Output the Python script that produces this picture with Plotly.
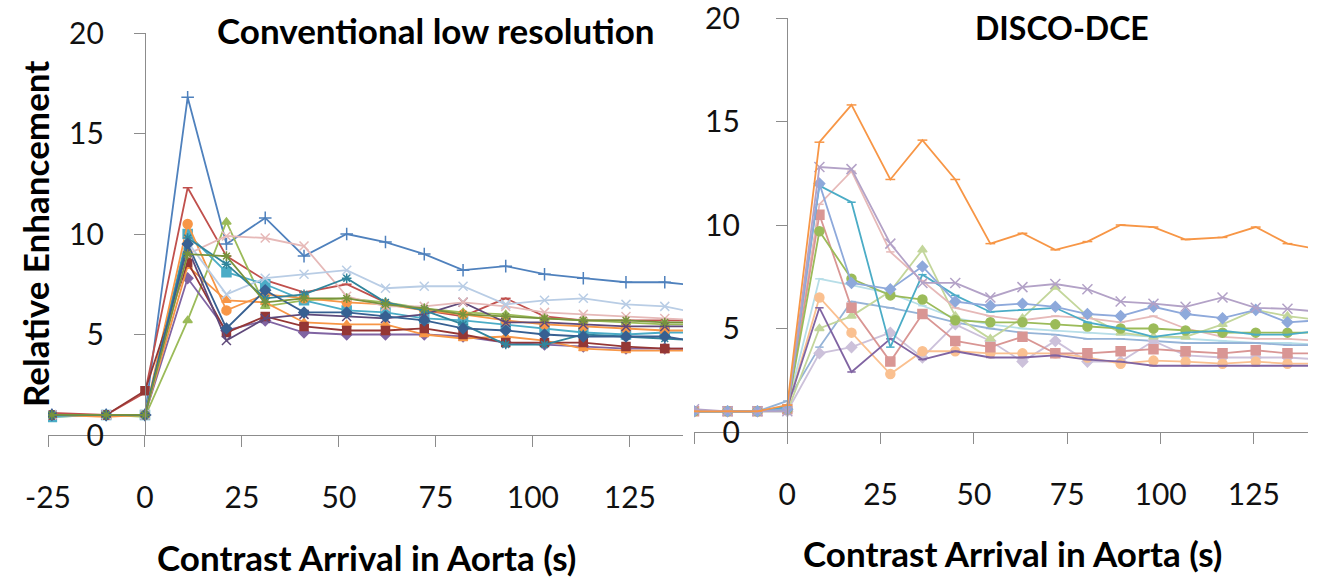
import plotly.graph_objects as go

W, H = 1319, 580

# ---------------- data ----------------
left_title = "Conventional low resolution"
right_title = "DISCO-DCE"
x_title = "Contrast Arrival in Aorta (s)"
y_title = "Relative Enhancement"

x_tick_vals = [-25, 0, 25, 50, 75, 100, 125]
x_tick_text_left = ["-25", "0", "25", "50", "75", "100", "125"]
x_tick_text_right = ["", "0", "25", "50", "75", "100", "125"]
y_tick_vals = [0, 5, 10, 15, 20]

t_left = [-24, -10, 0, 11, 21, 31, 41, 52, 62, 72, 82, 93, 103, 113, 124, 134, 144]
left_blue = [1.0, 1.0, 1.0, 16.8, 9.5, 10.8, 8.9, 10.0, 9.6, 9.0, 8.2, 8.4, 8.0, 7.8, 7.6, 7.6, 7.4]
left_red = [1.1, 1.0, 2.1, 12.3, 8.9, 7.7, 7.1, 7.5, 6.6, 6.2, 5.9, 6.8, 5.9, 5.7, 5.7, 5.7, 5.7]
left_green = [0.9, 1.0, 0.9, 5.7, 10.6, 6.4, 6.7, 6.8, 6.6, 6.3, 6.1, 6.0, 5.8, 5.7, 5.6, 5.5, 5.5]
left_purple = [1.0, 1.0, 1.0, 7.8, 5.2, 5.7, 5.1, 5.0, 5.0, 5.0, 4.9, 4.6, 4.5, 4.4, 4.3, 4.3, 4.3]
left_aqua = [0.9, 1.0, 1.0, 10.0, 8.1, 7.5, 6.7, 6.2, 6.1, 5.8, 5.7, 5.5, 5.3, 5.1, 5.0, 5.1, 5.1]
left_orange_c = [1.0, 1.0, 1.0, 10.5, 6.2, 7.0, 6.8, 6.6, 6.5, 6.2, 6.0, 5.7, 5.5, 5.4, 5.3, 5.2, 5.2]
left_orange_t = [1.0, 0.9, 1.0, 8.4, 6.7, 6.6, 5.6, 5.5, 5.5, 5.0, 4.8, 4.9, 4.7, 4.3, 4.2, 4.2, 4.2]
left_darkred = [1.0, 1.0, 2.2, 8.6, 5.1, 5.9, 5.4, 5.2, 5.2, 5.3, 5.0, 4.6, 4.6, 4.6, 4.4, 4.3, 4.3]
left_darkpurple = [1.0, 1.0, 1.0, 9.3, 4.7, 5.8, 6.0, 5.9, 5.8, 6.0, 6.6, 5.6, 5.6, 5.5, 5.4, 5.4, 5.4]
left_pink = [1.0, 1.0, 1.0, 9.0, 9.9, 9.8, 9.4, 6.9, 6.4, 6.4, 6.6, 6.4, 6.1, 6.0, 5.9, 5.8, 5.7]
left_lightblue = [1.0, 1.0, 1.0, 9.6, 7.0, 7.8, 8.0, 8.2, 7.3, 7.4, 7.4, 6.5, 6.7, 6.8, 6.5, 6.4, 6.0]
left_teal = [1.0, 1.0, 1.0, 9.8, 8.5, 6.8, 7.0, 7.8, 6.6, 6.2, 5.5, 4.5, 4.5, 5.0, 4.9, 4.8, 4.7]
left_darkblue = [1.0, 1.0, 1.0, 9.5, 5.3, 7.2, 6.1, 6.1, 5.9, 5.7, 5.3, 5.2, 5.0, 4.9, 4.9, 4.9, 4.6]
left_olive = [1.0, 1.0, 1.0, 9.0, 8.9, 6.6, 6.8, 6.8, 6.5, 6.3, 6.0, 5.9, 5.8, 5.7, 5.7, 5.6, 5.6]

t_right = [-25, -16, -8, 0, 8.6, 17.2, 27.6, 36.2, 45, 54.4, 63, 71.8, 80.4, 89.3, 98.1, 106.7, 116.6, 125.5, 134, 143]
right_orange = [1.0, 1.0, 1.0, 1.3, 14.0, 15.8, 12.2, 14.1, 12.2, 9.1, 9.6, 8.8, 9.2, 10.0, 9.9, 9.3, 9.4, 9.9, 9.1, 8.8]
right_lavender = [1.1, 1.0, 1.0, 1.0, 12.8, 12.7, 9.1, 7.2, 7.2, 6.5, 7.0, 7.15, 6.9, 6.3, 6.2, 6.05, 6.5, 6.0, 5.95, 5.8]
right_bluediamond = [1.0, 1.0, 1.0, 1.1, 12.0, 7.2, 6.9, 8.0, 6.3, 6.1, 6.2, 6.05, 5.7, 5.6, 6.05, 5.7, 5.5, 5.9, 5.3, 5.4]
right_teal = [1.0, 1.0, 1.0, 1.2, 11.9, 11.1, 4.1, 7.6, 6.6, 5.8, 5.9, 6.0, 5.3, 5.0, 4.6, 4.8, 4.9, 4.7, 4.7, 4.9]
right_green = [1.0, 1.0, 1.0, 1.1, 9.7, 7.4, 6.6, 6.4, 5.4, 5.3, 5.3, 5.2, 5.1, 5.0, 5.0, 4.9, 4.8, 4.8, 4.8, 4.8]
right_rose = [1.0, 1.0, 1.0, 1.1, 10.5, 6.0, 3.4, 5.7, 4.4, 4.1, 4.6, 3.8, 3.8, 3.9, 4.0, 3.9, 3.8, 3.95, 3.8, 3.8]
right_peach = [1.0, 1.0, 1.0, 1.1, 6.5, 4.8, 2.8, 3.9, 3.9, 3.8, 3.8, 3.8, 3.6, 3.3, 3.45, 3.4, 3.3, 3.4, 3.3, 3.3]
right_darkpurple = [1.0, 1.0, 1.0, 1.2, 6.0, 2.9, 4.5, 3.5, 3.9, 3.6, 3.6, 3.7, 3.5, 3.4, 3.2, 3.2, 3.2, 3.2, 3.2, 3.2]
right_lilac = [1.0, 1.0, 1.0, 1.0, 3.8, 4.1, 4.8, 3.6, 5.2, 4.4, 3.4, 4.4, 3.4, 3.4, 4.4, 3.7, 3.6, 3.6, 3.6, 3.5]
right_lightblue = [1.0, 1.0, 1.0, 1.5, 4.1, 6.3, 6.0, 5.7, 5.3, 5.0, 4.8, 4.7, 4.5, 4.5, 4.4, 4.3, 4.3, 4.3, 4.2, 4.2]
right_pink = [1.0, 1.0, 1.0, 1.1, 11.0, 12.6, 8.7, 7.3, 6.0, 5.6, 5.4, 5.6, 5.5, 5.3, 5.6, 5.0, 4.6, 4.5, 4.5, 4.4]
right_lightgreen = [1.0, 1.0, 1.0, 1.0, 5.0, 5.6, 6.8, 8.8, 5.6, 4.5, 5.5, 7.0, 5.6, 4.8, 4.6, 4.6, 5.2, 5.9, 5.6, 5.4]
right_lightaqua = [1.0, 1.0, 1.0, 1.2, 7.4, 7.1, 6.7, 6.1, 5.5, 5.2, 5.0, 4.9, 4.8, 4.7, 4.6, 4.5, 4.4, 4.3, 4.3, 4.2]

# ---------------- styles ----------------
left_series = [
    (left_blue, "#4F81BD", "cross-thin-open", 9),
    (left_red, "#C0504D", "line-ew-open", 7),
    (left_green, "#9BBB59", "triangle-up", 8),
    (left_purple, "#8064A2", "diamond", 8),
    (left_aqua, "#4BACC6", "square", 9),
    (left_orange_c, "#F79646", "circle", 9),
    (left_orange_t, "#F79646", "triangle-up", 8),
    (left_darkred, "#953735", "square", 8),
    (left_darkpurple, "#5F497A", "x-thin-open", 9),
    (left_pink, "#E6B9B8", "x-thin-open", 9),
    (left_lightblue, "#B9CDE5", "x-thin-open", 9),
    (left_teal, "#31859C", "asterisk-open", 8),
    (left_darkblue, "#376092", "diamond", 8),
    (left_olive, "#77933C", "asterisk-open", 8),
]
right_series = [
    (right_lightaqua, "#B7DEE8", "line-ew-open", 6),
    (right_lightblue, "#95B3D7", "line-ew-open", 6),
    (right_lilac, "#CCC1DA", "diamond", 8),
    (right_lightgreen, "#C3D69B", "triangle-up", 8),
    (right_pink, "#E6B9B8", "line-ew-open", 6),
    (right_peach, "#FAC090", "circle", 9),
    (right_rose, "#D99694", "square", 9),
    (right_darkpurple, "#8064A2", "line-ew-open", 6),
    (right_green, "#9BBB59", "circle", 9),
    (right_teal, "#4BACC6", "line-ew-open", 6),
    (right_bluediamond, "#8EA9DB", "diamond", 8),
    (right_lavender, "#B3A2C7", "x-thin-open", 10),
    (right_orange, "#F79646", "line-ew-open", 7),
]

fig = go.Figure()
for vals, col, sym, sz in left_series:
    fig.add_trace(go.Scatter(x=t_left, y=vals, mode="lines+markers", xaxis="x", yaxis="y",
                             line=dict(color=col, width=1.8),
                             marker=dict(symbol=sym, size=sz, color=col, line=dict(color=col, width=1.5)),
                             showlegend=False))
for vals, col, sym, sz in right_series:
    fig.add_trace(go.Scatter(x=t_right, y=vals, mode="lines+markers", xaxis="x2", yaxis="y2",
                             line=dict(color=col, width=1.8),
                             marker=dict(symbol=sym, size=sz, color=col, line=dict(color=col, width=1.5)),
                             showlegend=False))

FONT = "Lato"
AX = "#8C8C8C"
tickfont = dict(family=FONT, size=30, color="#111111")

def px_x(p):
    return p / W

def px_y(p):
    return 1 - p / H

common_x = dict(showgrid=False, zeroline=False, showline=True, linecolor=AX, linewidth=1.3,
                ticks="outside", ticklen=11, tickcolor=AX, tickwidth=1.3, automargin=False,
                ticklabeloverflow="allow",
                tickfont=tickfont, ticklabelstandoff=25, tickvals=x_tick_vals)
common_y = dict(showgrid=False, zeroline=False, showline=True, linecolor=AX, linewidth=1.3,
                ticks="outside", ticklen=11, tickcolor=AX, tickwidth=1.3, automargin=False,
                ticklabeloverflow="allow",
                tickfont=tickfont, tickvals=y_tick_vals, range=[0, 20])

fig.update_layout(
    width=W, height=H,
    margin=dict(l=0, r=0, t=0, b=0, autoexpand=False),
    paper_bgcolor="white", plot_bgcolor="white",
    xaxis=dict(common_x, domain=[px_x(48), px_x(683)], range=[-25, 138.7],
               ticktext=x_tick_text_left, anchor="y"),
    yaxis=dict(common_y, domain=[px_y(435), px_y(33)], anchor="free", position=px_x(145),
               ticklabelstandoff=24),
    xaxis2=dict(common_x, domain=[px_x(694), px_x(1308)], range=[-25, 139.5],
                ticktext=x_tick_text_right, anchor="y2"),
    yaxis2=dict(common_y, domain=[px_y(432), px_y(18)], anchor="free", position=px_x(787),
                ticklabelstandoff=30),
)

bold = dict(family=FONT, size=35, color="#000000", weight="bold")
bold_small = dict(bold, size=32)
ann = [
    dict(text=left_title, x=px_x(436), y=px_y(30), font=bold),
    dict(text=right_title, x=px_x(1062), y=px_y(28), font=bold_small),
    dict(text=x_title, x=px_x(366), y=px_y(557), font=bold),
    dict(text=x_title, x=px_x(1012), y=px_y(553), font=bold),
    dict(text=y_title, x=px_x(35), y=px_y(234), font=bold, textangle=-90),
]
for a in ann:
    fig.add_annotation(xref="paper", yref="paper", showarrow=False,
                       xanchor="center", yanchor="middle", **a)

fig.write_html("out.html", config={"displayModeBar": False},
               post_script="document.body.style.margin='0';")
